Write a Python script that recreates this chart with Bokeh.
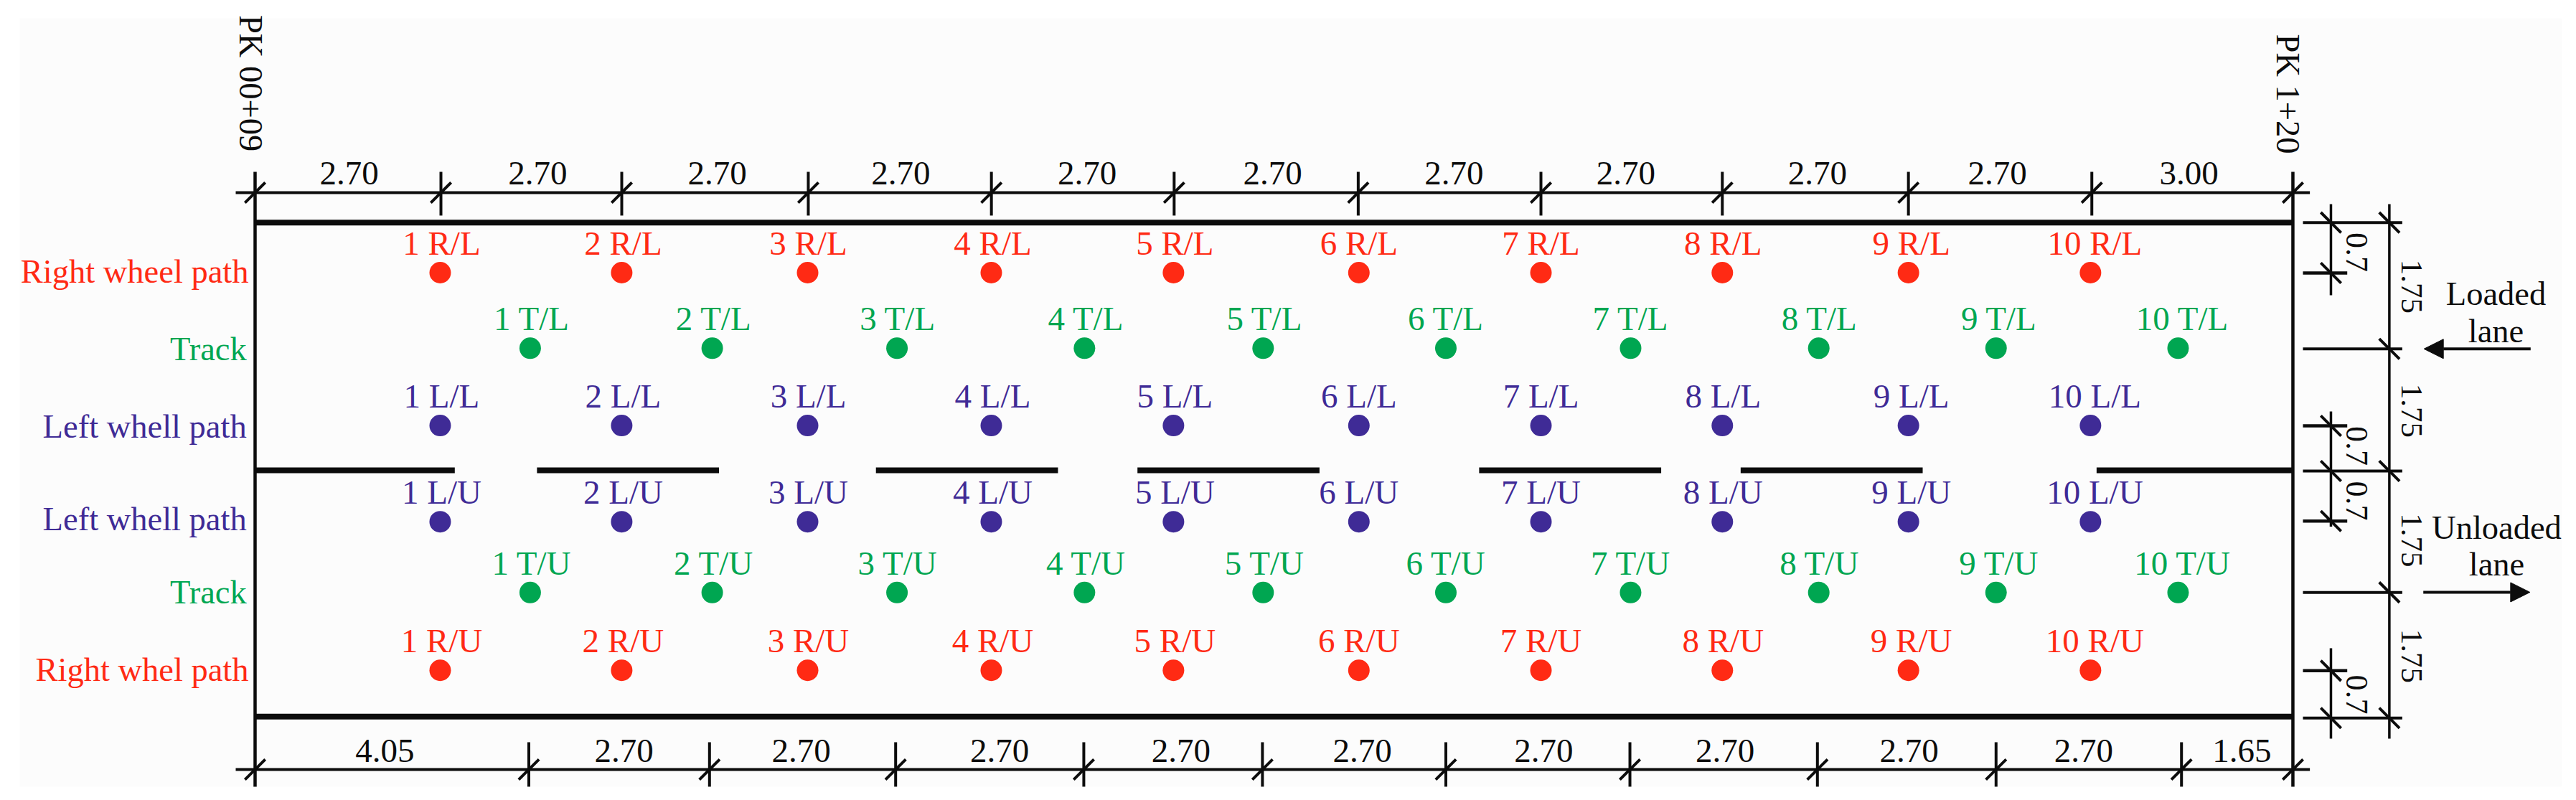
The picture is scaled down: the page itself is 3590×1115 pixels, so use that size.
import math

from bokeh.embed import file_html
from bokeh.models import Arrow, NormalHead
from bokeh.plotting import figure
from bokeh.resources import INLINE

# everything is in metres: x along the section, y across it (0 = centre line)
stations = [1, 2, 3, 4, 5, 6, 7, 8, 9, 10]
wheel_x = [2.725, 5.397, 8.134, 10.838, 13.52, 16.25, 18.93, 21.6, 24.34, 27.02]
track_x = [4.05, 6.73, 9.45, 12.21, 14.84, 17.53, 20.25, 23.02, 25.63, 28.31]

rows = [
    ("R/L", wheel_x, 2.79, "#FF2A14"),
    ("T/L", track_x, 1.72, "#00A651"),
    ("L/L", wheel_x, 0.624, "#3F2B96"),
    ("L/U", wheel_x, -0.739, "#3F2B96"),
    ("T/U", track_x, -1.742, "#00A651"),
    ("R/U", wheel_x, -2.844, "#FF2A14"),
]
label_nudge = [2, 2, 1, 2, 2, 0, 0, 1, 4, 6]

side_labels = ["Right wheel path", "Track", "Left whell path", "Left whell path", "Track", "Right whel path"]
side_y = [2.653, 1.555, 0.46, -0.854, -1.89, -2.99]
side_x = [-0.095, -0.125, -0.125, -0.125, -0.125, -0.095]
side_colors = ["#FF2A14", "#00A651", "#3F2B96", "#3F2B96", "#00A651", "#FF2A14"]

top_ticks = [0, 2.736, 5.398, 8.144, 10.84, 13.53, 16.24, 18.93, 21.6, 24.34, 27.04, 30]
top_text = ["2.70"] * 10 + ["3.00"]
top_text_x = [1.384, 4.162, 6.803, 9.507, 12.25, 14.98, 17.65, 20.18, 23.0, 25.65, 28.47]

bottom_ticks = [0, 4.03, 6.69, 9.43, 12.2, 14.83, 17.53, 20.24, 23.0, 25.63, 28.36, 30]
bottom_text = ["4.05"] + ["2.70"] * 9 + ["1.65"]
bottom_text_x = [1.912, 5.43, 8.04, 10.96, 13.63, 16.30, 18.97, 21.64, 24.35, 26.92, 29.25]

dash_start = [0, 4.15, 9.14, 12.99, 18.02, 21.87, 27.11]
dash_end = [2.94, 6.83, 11.82, 15.67, 20.70, 24.55, 30]

short_levels = [3.50, 2.785, 0.62, -0.02, -0.73, -2.85, -3.52]
long_levels = [3.50, 1.71, -0.02, -1.74, -3.52]
short_ext = [2.785, 0.62, -0.73, -2.85]

ink = "#0C0C0C"
serif = "Liberation Serif"
# the alphabetic anchor lands mid-glyph in the svg output, so lift the texts onto their baselines
lift = 15

p = figure(width=3574, height=1099, x_range=(-3.75, 34.004), y_range=(-4.524, 6.648),
           x_axis_type=None, y_axis_type=None, toolbar_location=None, output_backend="svg",
           min_border=0, outline_line_color=None)
p.grid.visible = False

p.quad(left=[-3.465], right=[33.96], top=[6.394], bottom=[-4.493], fill_color="#FCFCFC", line_color=None)

# road edges, centre line and the two end walls
p.segment(x0=[0, 0], y0=[3.5, -3.5], x1=[30, 30], y1=[3.5, -3.5], line_color=ink, line_width=8)
p.segment(x0=dash_start, y0=[-0.01] * 7, x1=dash_end, y1=[-0.01] * 7, line_color=ink, line_width=8)
p.segment(x0=[0, 30], y0=[4.219, 4.219], x1=[0, 30], y1=[-4.493, -4.493], line_color=ink, line_width=4.5)

# top and bottom dimension lines
p.segment(x0=[-0.285, -0.285], y0=[3.924, -4.249], x1=[30.25, 30.25], y1=[3.924, -4.249],
          line_color=ink, line_width=4)
p.segment(x0=top_ticks[1:-1], y0=[4.219] * 10, x1=top_ticks[1:-1], y1=[3.599] * 10, line_color=ink, line_width=4)
p.segment(x0=bottom_ticks[1:-1], y0=[-3.863] * 10, x1=bottom_ticks[1:-1], y1=[-4.493] * 10,
          line_color=ink, line_width=4)
p.scatter(top_ticks, [3.924] * 12, marker="dash", size=40, angle=math.pi / 4, line_color=ink, line_width=4)
p.scatter(bottom_ticks, [-4.249] * 12, marker="dash", size=40, angle=math.pi / 4, line_color=ink, line_width=4)
p.text(top_text_x, [4.042] * 11, text=top_text, y_offset=-lift, text_font=serif, text_font_size="47px",
       text_color=ink, text_align="center", text_baseline="alphabetic")
p.text(bottom_text_x, [-4.137] * 11, text=bottom_text, y_offset=-lift, text_font=serif, text_font_size="47px",
       text_color=ink, text_align="center", text_baseline="alphabetic")

# right hand dimensions
p.segment(x0=[30.148] * 5, y0=long_levels, x1=[31.61] * 5, y1=long_levels, line_color=ink, line_width=4)
p.segment(x0=[30.148] * 4, y0=short_ext, x1=[30.80] * 4, y1=short_ext, line_color=ink, line_width=4.5)
p.segment(x0=[30.56, 30.56, 30.56, 31.42], y0=[3.761, 0.823, -2.531, 3.761],
          x1=[30.56, 30.56, 30.56, 31.42], y1=[2.470, -0.809, -3.812, -3.812], line_color=ink, line_width=3.5)
p.scatter([30.56] * 7, short_levels, marker="dash", size=40, angle=-math.pi / 4, line_color=ink, line_width=4)
p.scatter([31.42] * 5, long_levels, marker="dash", size=40, angle=-math.pi / 4, line_color=ink, line_width=4)
p.text([30.78] * 4, [3.08, 0.335, -0.442, -3.187], text=["0.7"] * 4, angle=-math.pi / 2, x_offset=lift,
       text_font=serif, text_font_size="44px", text_color=ink, text_align="center", text_baseline="alphabetic")
p.text([31.59] * 4, [2.592, 0.834, -1.001, -2.643], text=["1.75"] * 4, angle=-math.pi / 2, x_offset=lift,
       text_font=serif, text_font_size="43px", text_color=ink, text_align="center", text_baseline="alphabetic")

# chainage marks
p.text([-0.22, 29.77], [6.44, 6.17], text=["PK 00+09", "PK 1+20"], angle=-math.pi / 2, x_offset=lift,
       text_font=serif, text_font_size="46.5px", text_color=ink, text_align="left", text_baseline="alphabetic")

# lane names and direction arrows
p.text([32.99, 32.99, 33.0, 33.0], [2.338, 1.81, -0.976, -1.494], text=["Loaded", "lane", "Unloaded", "lane"],
       y_offset=-lift, text_font=serif, text_font_size="46.5px", text_color=ink, text_align="center",
       text_baseline="alphabetic")
for x0, x1, y in [(33.50, 31.93, 1.71), (31.92, 33.49, -1.738)]:
    p.add_layout(Arrow(end=NormalHead(size=27, fill_color=ink, line_color=ink), x_start=x0, y_start=y,
                       x_end=x1, y_end=y, line_color=ink, line_width=4))

# measuring points
for code, xs, y, color in rows:
    p.scatter(xs, [y] * 10, marker="circle", size=30, fill_color=color, line_color=None)
    names = [f"{n} {code}" for n in stations]
    p.text([x + nudge / 94.667 for x, nudge in zip(xs, label_nudge)], [y] * 10, text=names, y_offset=-26 - lift,
           text_font=serif, text_font_size="47px", text_color=color, text_align="center",
           text_baseline="alphabetic")

for i, name in enumerate(side_labels):
    p.text([side_x[i]], [side_y[i]], text=[name], y_offset=-lift, text_font=serif, text_font_size="46.5px",
           text_color=side_colors[i], text_align="right", text_baseline="alphabetic")

open("out.html", "w").write(file_html(p, INLINE))
